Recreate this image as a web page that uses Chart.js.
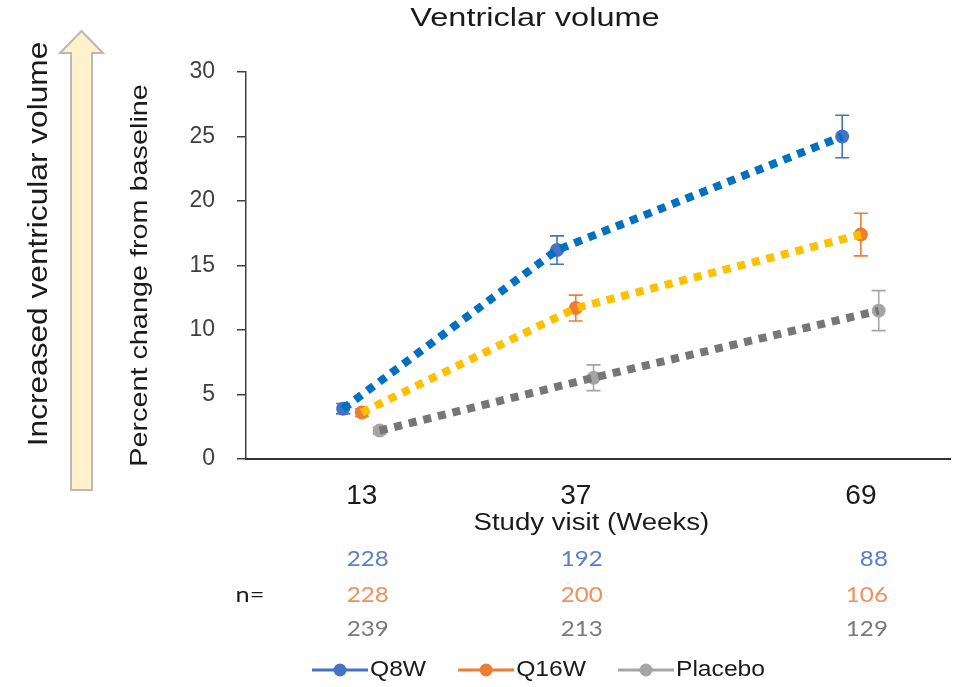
<!DOCTYPE html>
<html><head><meta charset="utf-8">
<script src="https://cdn.jsdelivr.net/npm/chart.js@4.4.1/dist/chart.umd.min.js"></script>
<style>html,body{margin:0;padding:0;background:#fff}#wrap{width:963px;height:687px;position:relative}canvas{display:block}</style>
</head><body><div id="wrap"><canvas id="c" width="963" height="687"></canvas></div>
<script>
// ---- data ----
const chartTitle = 'Ventriclar volume';
const xTitle = 'Study visit (Weeks)';
const yTitle = 'Percent change from baseline';
const arrowLabel = 'Increased ventricular volume';
const weeks = [13, 37, 69];
const seriesNames = ['Q8W', 'Q16W', 'Placebo'];
const q8w = [3.9, 16.2, 25.0];
const q8wErr = [0.4, 1.1, 1.65];
const q16w = [3.6, 11.7, 17.4];
const q16wErr = [0.3, 1.0, 1.65];
const placebo = [2.2, 6.3, 11.5];
const placeboErr = [0.25, 1.0, 1.55];
const nQ8W = [228, 192, 88];
const nQ16W = [228, 200, 106];
const nPlacebo = [239, 213, 129];
const yMin = 0, yMax = 30, yStep = 5;

// ---- style ----
const markerColors = ['#4472c4', '#ed7d31', '#a5a5a5'];
const trendColors = ['#0070c0', '#ffc000', '#767676'];
const countColors = ['#5b7fc9', '#f0905a', '#7a7a7a'];
const dodge = [-2.1, 0, 2.0]; // horizontal offset (weeks) per series
const values = [q8w, q16w, placebo];
const errors = [q8wErr, q16wErr, placeboErr];
const counts = [nQ8W, nQ16W, nPlacebo];

const datasets = [];
seriesNames.forEach((name, i) => {
  const pts = weeks.map((w, j) => ({ x: w + dodge[i], y: values[i][j] }));
  datasets.push({
    label: name, data: pts, showLine: false, order: 1,
    pointRadius: 7, pointHoverRadius: 7, pointBackgroundColor: markerColors[i],
    pointBorderColor: markerColors[i], pointBorderWidth: 0, errs: errors[i], isMarker: true
  });
  datasets.push({
    label: name + ' trend', data: pts, showLine: true, order: 0,
    borderColor: trendColors[i], borderWidth: 8, borderDash: [8, 7], borderCapStyle: 'butt',
    pointRadius: 0, pointHoverRadius: 0, fill: false, tension: 0
  });
});

function txt(ctx, s, x, y, font, color, align, sx, rot) {
  ctx.save();
  ctx.translate(x, y);
  if (rot) ctx.rotate(rot);
  ctx.scale(sx || 1, 1);
  ctx.font = font; ctx.fillStyle = color;
  ctx.textAlign = align || 'center'; ctx.textBaseline = 'middle';
  ctx.fillText(s, 0, 0);
  ctx.restore();
}

const errorBars = {
  id: 'errorBars',
  beforeDatasetsDraw(chart) {
    const ctx = chart.ctx, ys = chart.scales.y;
    chart.data.datasets.forEach((ds, di) => {
      if (!ds.isMarker) return;
      const meta = chart.getDatasetMeta(di);
      meta.data.forEach((pt, j) => {
        const v = ds.data[j].y, e = ds.errs[j];
        const top = ys.getPixelForValue(v + e), bot = ys.getPixelForValue(v - e);
        ctx.save();
        ctx.strokeStyle = ds.pointBackgroundColor; ctx.lineWidth = 1.6;
        ctx.beginPath();
        ctx.moveTo(pt.x, top); ctx.lineTo(pt.x, bot);
        ctx.moveTo(pt.x - 7, top); ctx.lineTo(pt.x + 7, top);
        ctx.moveTo(pt.x - 7, bot); ctx.lineTo(pt.x + 7, bot);
        ctx.stroke();
        ctx.restore();
      });
    });
  }
};

const extras = {
  id: 'extras',
  afterDraw(chart) {
    const ctx = chart.ctx, xs = chart.scales.x, ca = chart.chartArea;
    // title
    txt(ctx, chartTitle, 535, 19, '25px "Liberation Sans", Arial, sans-serif', '#1a1a1a', 'center', 1.3);
    // axis titles
    txt(ctx, xTitle, (xs.getPixelForValue(weeks[0]) + xs.getPixelForValue(weeks[2])) / 2 - 20, 524,
        '23px "Liberation Sans", Arial, sans-serif', '#1a1a1a', 'center', 1.2);
    txt(ctx, yTitle, 140, (ca.top + ca.bottom) / 2 + 10, '24px "Liberation Sans", Arial, sans-serif',
        '#1a1a1a', 'center', 1.2, -Math.PI / 2);
    // arrow
    ctx.save();
    ctx.beginPath();
    ctx.moveTo(71, 490); ctx.lineTo(71, 53); ctx.lineTo(60, 53); ctx.lineTo(81.5, 31);
    ctx.lineTo(103, 53); ctx.lineTo(92, 53); ctx.lineTo(92, 490); ctx.closePath();
    ctx.fillStyle = '#fff2cc'; ctx.fill();
    ctx.strokeStyle = '#b9b9b9'; ctx.lineWidth = 2; ctx.stroke();
    ctx.restore();
    txt(ctx, arrowLabel, 39, 244, '28px "Liberation Sans", Arial, sans-serif', '#1a1a1a', 'center', 1.13, -Math.PI / 2);
    // n table
    const rowsY = [559, 595, 629];
    txt(ctx, 'n=', 250, rowsY[1], '22px Lato, sans-serif', '#1a1a1a', 'center', 1.15);
    counts.forEach((row, r) => {
      row.forEach((n, j) => {
        txt(ctx, String(n), xs.getPixelForValue(weeks[j]) + 27, rowsY[r], '21px Lato, sans-serif', countColors[r], 'right', 1.15);
      });
    });
    // legend
    let lx = 312; const ly = 670;
    const lfont = '22px "Liberation Sans", Arial, sans-serif';
    seriesNames.forEach((name, i) => {
      ctx.save();
      ctx.strokeStyle = markerColors[i]; ctx.lineWidth = 3;
      ctx.beginPath(); ctx.moveTo(lx, ly); ctx.lineTo(lx + 56, ly); ctx.stroke();
      ctx.fillStyle = markerColors[i];
      ctx.beginPath(); ctx.arc(lx + 28, ly, 6.5, 0, Math.PI * 2); ctx.fill();
      ctx.font = lfont;
      const w = ctx.measureText(name).width * 1.12;
      ctx.restore();
      txt(ctx, name, lx + 58, ly, lfont, '#1a1a1a', 'left', 1.12);
      lx += 58 + w + 32;
    });
  }
};

new Chart(document.getElementById('c'), {
  type: 'line',
  data: { datasets },
  options: {
    responsive: false, animation: false, devicePixelRatio: 1,
    layout: { padding: { top: 72, right: 13, left: 0, bottom: 0 } },
    plugins: { legend: { display: false }, tooltip: { enabled: false }, title: { display: false } },
    scales: {
      x: {
        type: 'linear', min: 0, max: 79,
        afterFit(s) { s.height = 228; },
        afterBuildTicks(s) { s.ticks = weeks.map(v => ({ value: v })); },
        grid: { display: false, drawTicks: false },
        border: { display: true, color: '#333333', width: 2 },
        ticks: { color: '#1a1a1a', font: { family: '"Liberation Sans", Arial, sans-serif', size: 28 }, padding: 20, autoSkip: false, maxRotation: 0 }
      },
      y: {
        min: yMin, max: yMax,
        afterFit(s) { s.width = 246; },
        ticks: { stepSize: yStep, color: '#404040', font: { family: '"Liberation Sans", Arial, sans-serif', size: 23 }, padding: 22 },
        grid: { drawOnChartArea: false, drawTicks: true, tickLength: 9, color: '#404040', lineWidth: 1.5 },
        border: { color: '#404040', width: 1.5 }
      }
    }
  },
  plugins: [errorBars, extras]
});
</script>
</body></html>
